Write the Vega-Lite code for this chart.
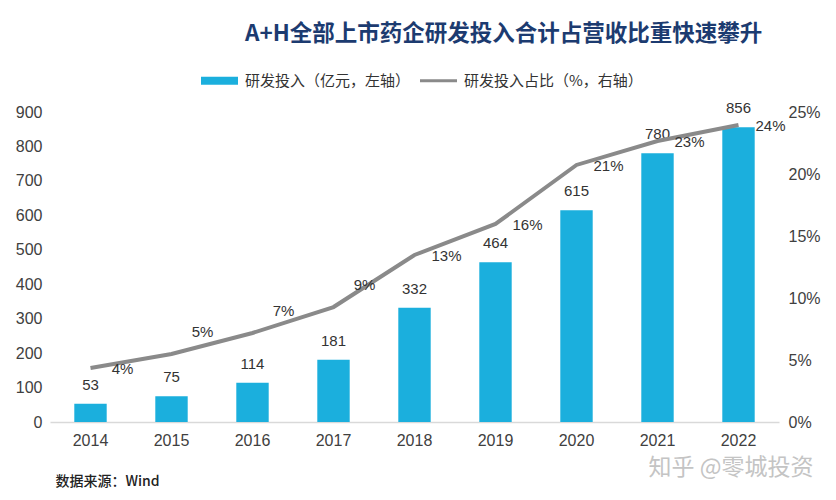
{
  "$schema": "https://vega.github.io/schema/vega-lite/v6.json",
  "autosize": {"type": "none"},
  "width": 729,
  "height": 310,
  "padding": {"left": 50, "top": 112, "right": 57, "bottom": 78},
  "background": "white",
  "title": {
    "text": "A+H全部上市药企研发投入合计占营收比重快速攀升",
    "anchor": "start",
    "frame": "group",
    "dx": 195,
    "offset": 17,
    "font": "Noto Sans CJK SC",
    "fontSize": 22.5,
    "fontWeight": "bold",
    "color": "#1C3B70"
  },
  "config": {
    "view": {"stroke": null},
    "font": "Liberation Sans",
    "axis": {"labelColor": "#404040", "labelFontSize": 15, "labelFont": "Liberation Sans", "grid": false, "ticks": false, "labelOverlap": false}
  },
  "data": {
    "values": [
      {"year": "2014", "value": 53, "pct": 0.0435},
      {"year": "2015", "value": 75, "pct": 0.0548},
      {"year": "2016", "value": 114, "pct": 0.0718},
      {"year": "2017", "value": 181, "pct": 0.0927},
      {"year": "2018", "value": 332, "pct": 0.1347},
      {"year": "2019", "value": 464, "pct": 0.1597},
      {"year": "2020", "value": 615, "pct": 0.2073},
      {"year": "2021", "value": 780, "pct": 0.2266},
      {"year": "2022", "value": 856, "pct": 0.2395}
    ]
  },
  "encoding": {
    "x": {
      "field": "year",
      "type": "ordinal",
      "scale": {"paddingInner": 0.6, "paddingOuter": 0.3},
      "axis": {
        "labelAngle": 0,
        "labelPadding": 10,
        "labelFontSize": 16,
        "domain": true,
        "domainColor": "#d9d9d9",
        "domainWidth": 1.5,
        "title": "数据来源：Wind",
        "titleFont": "Noto Sans CJK SC",
        "titleFontSize": 14,
        "titleFontWeight": 500,
        "titleColor": "#222222",
        "titleAnchor": "start",
        "titleAlign": "left",
        "titleBaseline": "middle",
        "titleX": 5,
        "titleY": 59
      }
    }
  },
  "layer": [
    {
      "encoding": {
        "y": {
          "field": "value",
          "type": "quantitative",
          "scale": {"domain": [0, 900]},
          "axis": {"values": [0, 100, 200, 300, 400, 500, 600, 700, 800, 900], "domain": false, "labelPadding": 8, "labelFontSize": 16, "title": null, "labelOverlap": false}
        }
      },
      "layer": [
        {
          "mark": {"type": "bar"},
          "encoding": {
            "color": {
              "datum": "研发投入（亿元，左轴）",
              "type": "nominal",
              "scale": {"domain": ["研发投入（亿元，左轴）", "研发投入占比（%，右轴）"], "range": ["#1BAFDD", "#8A8A8A"]},
              "legend": {
                "title": null,
                "orient": "none",
                "direction": "horizontal",
                "columns": 2,
                "legendX": 151,
                "legendY": -50,
                "padding": 0,
                "columnPadding": 9,
                "labelOffset": 7,
                "symbolSize": 1369,
                "labelFont": "Noto Sans CJK SC",
                "labelFontSize": 15,
                "labelColor": "#333333",
                "labelLimit": 300,
                "encode": {
                  "symbols": {
                    "update": {
                      "shape": {"signal": "datum.value == '研发投入（亿元，左轴）' ? 'M-1,-0.22H1V0.22H-1Z' : 'M-1,-0.08H1V0.08H-1Z'"},
                      "fill": {"signal": "datum.value == '研发投入（亿元，左轴）' ? '#1BAFDD' : '#8A8A8A'"},
                      "stroke": {"value": "transparent"},
                      "strokeWidth": {"value": 0},
                      "opacity": {"value": 1}
                    }
                  }
                }
              }
            }
          }
        },
        {
          "mark": {"type": "text", "dy": -19, "fontSize": 15, "color": "#333333", "font": "Liberation Sans"},
          "encoding": {
            "text": {"field": "value", "type": "quantitative"}
          }
        }
      ]
    },
    {
      "encoding": {
        "y": {
          "field": "pct",
          "type": "quantitative",
          "scale": {"domain": [0, 0.25]},
          "axis": {"orient": "right", "values": [0, 0.05, 0.1, 0.15, 0.2, 0.25], "format": ".0%", "domain": false, "labelPadding": 9, "labelFontSize": 16, "labelOverlap": false,
            "title": "知乎 @零城投资",
            "titleAngle": 0,
            "titleFont": "Noto Sans CJK SC",
            "titleFontSize": 23,
            "titleFontWeight": "normal",
            "titleColor": "#c4c4c4",
            "titleAlign": "right",
            "titleBaseline": "middle",
            "titleX": 34,
            "titleY": 355
          }
        }
      },
      "layer": [
        {
          "mark": {"type": "line", "strokeWidth": 4},
          "encoding": {
            "color": {"datum": "研发投入占比（%，右轴）", "type": "nominal"}
          }
        },
        {
          "transform": [{"filter": "datum.year != '2015' && datum.year != '2016' && datum.year != '2017'"}],
          "mark": {"type": "text", "dx": 32, "dy": 1, "fontSize": 15, "color": "#333333", "font": "Liberation Sans"},
          "encoding": {
            "text": {"field": "pct", "type": "quantitative", "format": ".0%"}
          }
        },
        {
          "transform": [{"filter": "datum.year == '2015' || datum.year == '2016' || datum.year == '2017'"}],
          "mark": {"type": "text", "dx": 31, "dy": -22, "fontSize": 15, "color": "#333333", "font": "Liberation Sans"},
          "encoding": {
            "text": {"field": "pct", "type": "quantitative", "format": ".0%"}
          }
        }
      ]
    }
  ],
  "resolve": {"scale": {"y": "independent"}}
}
